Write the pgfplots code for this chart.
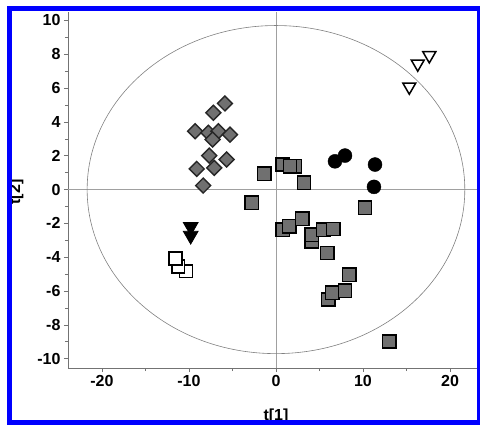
\documentclass[border=0pt]{standalone}
\usepackage{fontspec}
\setmainfont{Liberation Sans}
\usepackage{pgfplots}
\pgfplotsset{compat=1.18}
\definecolor{mkgray}{HTML}{707070}
\definecolor{zgray}{HTML}{A0A0A0}
\definecolor{elgray}{HTML}{808080}
\begin{document}
\begin{tikzpicture}
\useasboundingbox (-68pt,-56pt) rectangle (412pt,368pt);
\begin{axis}[
  at={(0pt,0pt)}, anchor=south west,
  scale only axis, width=409pt, height=356pt,
  xmin=-23.9, xmax=23.1, ymin=-10.55, ymax=10.5,
  axis x line*=bottom, axis y line*=left,
  x axis line style={-}, y axis line style={-},
  axis line style={draw=black!55, line width=0.8pt},
  xtick={-20,-10,0,10,20}, minor x tick num=1,
  ytick={-10,-8,...,10}, minor y tick num=1,
  tick align=outside, major tick length=4pt, minor tick length=3pt,
  tick style={draw=black!55, line width=0.6pt},
  ticklabel style={font=\fontsize{16}{16}\selectfont\bfseries},
  /pgf/number format/assume math mode=true,
  clip=false,
]
\draw[zgray, line width=0.9pt] (axis cs:0,-10.55) -- (axis cs:0,10.5);
\draw[zgray, line width=0.9pt] (axis cs:-23.9,0) -- (axis cs:23.1,0);
\draw[elgray, line width=0.6pt] (axis cs:0,0) ellipse [x radius=21.7, y radius=9.7];

% diamonds
\addplot[only marks, mark=square*, mark size=5.3pt,
  mark options={rotate=45, fill=mkgray, draw=black!85, line width=1.4pt}]
coordinates {(-5.86,5.09) (-7.2,4.54) (-9.3,3.45) (-7.78,3.36) (-6.63,3.45) (-5.29,3.25)
 (-7.28,2.96) (-7.67,2.01) (-5.67,1.78) (-7.09,1.28) (-9.11,1.22) (-8.36,0.24)};

% gray squares
\addplot[only marks, mark=square*, mark size=6.7pt,
  mark options={fill=mkgray, draw=black, line width=1.5pt}]
coordinates {(-1.34,0.93) (-2.79,-0.79) (0.77,1.48) (2.18,1.38) (1.61,1.38) (3.22,0.4)
 (0.77,-2.37) (1.53,-2.17) (3.02,-1.72) (4.1,-3.06) (4.1,-2.66) (5.44,-2.37) (6.59,-2.33)
 (5.9,-3.75) (8.43,-5.03) (10.23,-1.08) (6.01,-6.5) (6.47,-6.11) (7.93,-5.98) (13.02,-8.98)};

% open squares
\addplot[only marks, mark=square*, mark size=6.4pt,
  mark options={fill=white, draw=black, line width=1.5pt}]
coordinates {(-10.34,-4.83) (-11.23,-4.54) (-11.53,-4.08)};

% filled down triangles
\addplot[only marks, mark=triangle*, mark size=8.5pt,
  mark options={rotate=180, fill=black, draw=black, line width=0.8pt}]
coordinates {(-9.8,-2.2) (-9.8,-2.72)};

% black circles
\addplot[only marks, mark=*, mark size=7pt,
  mark options={fill=black, draw=black}]
coordinates {(6.78,1.67) (7.93,2.01) (11.38,1.48) (11.26,0.16)};

% open down triangles
\addplot[only marks, mark=triangle*, mark size=7.5pt,
  mark options={rotate=180, fill=white, draw=black, line width=1.5pt}]
coordinates {(15.32,6.08) (16.29,7.44) (17.62,7.93)};
\end{axis}
\node[font=\fontsize{16}{16}\selectfont\bfseries] at (208pt,-48pt) {t[1]};
\node[font=\fontsize{16}{16}\selectfont\bfseries, rotate=90] at (-52pt,176pt) {t[2]};
\draw[draw={rgb,255:red,0;green,0;blue,255}, line width=5pt] (-58.5pt,-54.5pt) rectangle (411.5pt,359.5pt);
\end{tikzpicture}
\end{document}
